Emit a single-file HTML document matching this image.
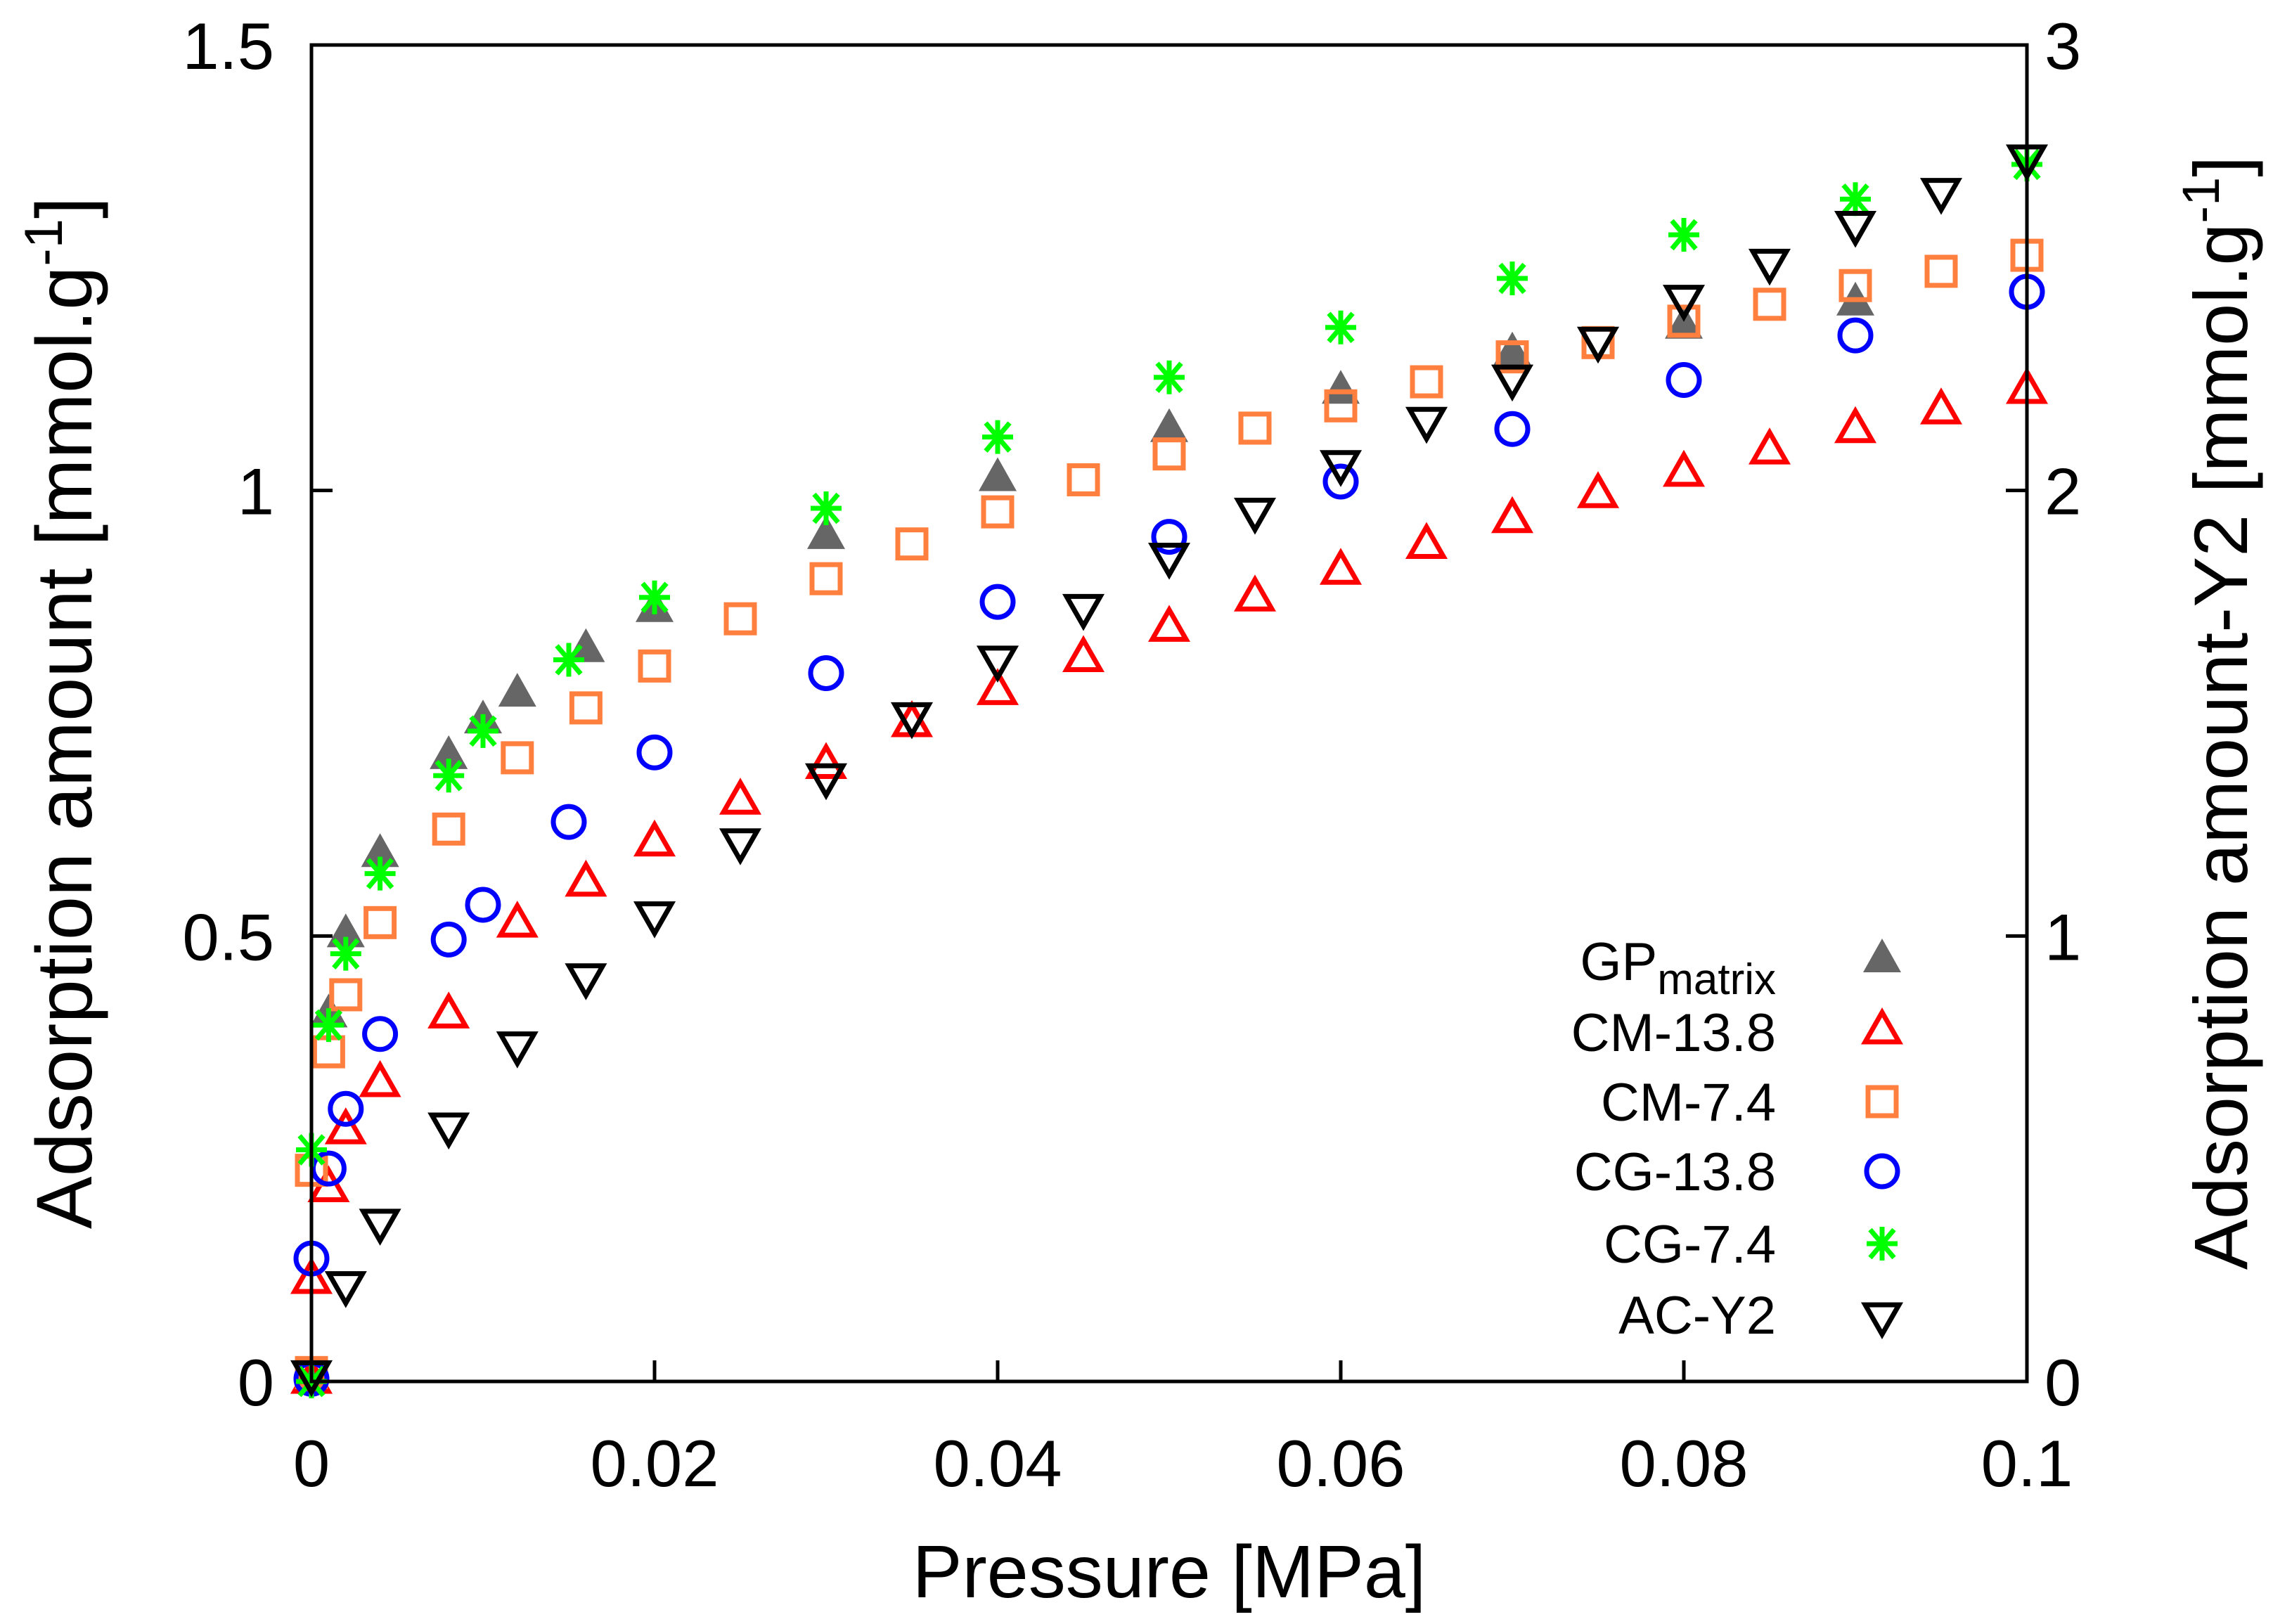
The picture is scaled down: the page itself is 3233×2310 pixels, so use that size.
<!DOCTYPE html>
<html><head><meta charset="utf-8"><style>
html,body{margin:0;padding:0;background:#fff;}
svg{display:block;font-family:"Liberation Sans",sans-serif;}
</style></head><body>
<svg id="chart" width="3233" height="2310" viewBox="0 0 3233 2310" xmlns="http://www.w3.org/2000/svg">
<g id="marks"></g>
<rect x="443" y="64" width="2440" height="1901" fill="none" stroke="#000" stroke-width="5"/>
<g id="axes"></g>
<text x="1663" y="2272" font-size="106" text-anchor="middle">Pressure [MPa]</text>
<text transform="translate(130,1014) rotate(-90)" font-size="112" text-anchor="middle">Adsorption amount [mmol.g<tspan dy="-42" font-size="76">-1</tspan><tspan dy="42">]</tspan></text>
<text transform="translate(3196,1014) rotate(-90)" font-size="108" text-anchor="middle">Adsorption amount-Y2 [mmol.g<tspan dy="-40" font-size="74">-1</tspan><tspan dy="40">]</tspan></text>
<g id="legend"></g>
</svg>
<script>
const xTicks=[0,0.02,0.04,0.06,0.08,0.1];
const xTickLabels=["0","0.02","0.04","0.06","0.08","0.1"];
const yTicks=[0,0.5,1,1.5];
const yTickLabels=["0","0.5","1","1.5"];
const y2Ticks=[0,1,2,3];
const y2TickLabels=["0","1","2","3"];
const seriesNames=["GPmatrix","CM-13.8","CM-7.4","CG-13.8","CG-7.4","AC-Y2"];
const gpX=[0,0.001,0.002,0.004,0.008,0.01,0.012,0.016,0.02,0.03,0.04,0.05,0.06,0.07,0.08,0.09];
const gpY=[0,0.41,0.50,0.59,0.70,0.74,0.77,0.82,0.865,0.947,1.012,1.067,1.11,1.153,1.183,1.209];
const cm138X=[0,0,0.001,0.002,0.004,0.008,0.012,0.016,0.02,0.025,0.03,0.035,0.04,0.045,0.05,0.055,0.06,0.065,0.07,0.075,0.08,0.085,0.09,0.095,0.1];
const cm138Y=[0,0.112,0.215,0.28,0.333,0.41,0.512,0.558,0.603,0.65,0.69,0.737,0.773,0.81,0.844,0.878,0.908,0.937,0.966,0.994,1.018,1.043,1.067,1.088,1.111];
const cm74X=[0,0,0.001,0.002,0.004,0.008,0.012,0.016,0.02,0.025,0.03,0.035,0.04,0.045,0.05,0.055,0.06,0.065,0.07,0.075,0.08,0.085,0.09,0.095,0.1];
const cm74Y=[0.01,0.237,0.37,0.434,0.515,0.62,0.70,0.756,0.803,0.856,0.901,0.94,0.976,1.012,1.041,1.07,1.095,1.122,1.15,1.166,1.19,1.209,1.23,1.246,1.264];
const cg138X=[0,0,0.001,0.002,0.004,0.008,0.01,0.015,0.02,0.03,0.04,0.05,0.06,0.07,0.08,0.09,0.1];
const cg138Y=[0.003,0.138,0.239,0.306,0.39,0.496,0.535,0.628,0.706,0.795,0.875,0.948,1.01,1.069,1.124,1.174,1.223];
const cg74X=[0,0,0.001,0.002,0.004,0.008,0.01,0.015,0.02,0.03,0.04,0.05,0.06,0.07,0.08,0.09,0.1];
const cg74Y=[0,0.26,0.40,0.48,0.57,0.68,0.73,0.81,0.88,0.98,1.06,1.127,1.183,1.238,1.287,1.327,1.366];
const acX=[0,0.002,0.004,0.008,0.012,0.016,0.02,0.025,0.03,0.035,0.04,0.045,0.05,0.055,0.06,0.065,0.07,0.075,0.08,0.085,0.09,0.095,0.1];
const acY2=[0.02,0.22,0.36,0.576,0.758,0.911,1.05,1.214,1.36,1.497,1.624,1.74,1.855,1.956,2.063,2.16,2.255,2.34,2.434,2.515,2.6,2.674,2.749];

const L=443,R=2883,T=64,B=1965,NS="http://www.w3.org/2000/svg";
const xs=v=>L+(v-0)/(0.1-0)*(R-L);
const ys=v=>B-(v/1.5)*(B-T);
const y2s=v=>B-(v/3)*(B-T);
function el(tag,attrs,parent){const e=document.createElementNS(NS,tag);for(const k in attrs)e.setAttribute(k,attrs[k]);parent.appendChild(e);return e;}
const axes=document.getElementById('axes');
xTicks.forEach((t,i)=>{
  const x=xs(t);
  if(i>0&&i<xTicks.length-1){const tk=el('line',{x1:x,x2:x,y1:B,y2:B-30,stroke:'#000','stroke-width':5},axes);
  
  }
  const tx=el('text',{x:x,y:2114,'font-size':94,'text-anchor':'middle'},axes);tx.textContent=xTickLabels[i];
  
  
});
yTicks.forEach((t,i)=>{
  const y=ys(t);
  if(i>0&&i<yTicks.length-1){const tk=el('line',{x1:L,x2:L+30,y1:y,y2:y,stroke:'#000','stroke-width':5},axes);
  
  }
  const tx=el('text',{x:390,y:y+34,'font-size':94,'text-anchor':'end'},axes);tx.textContent=yTickLabels[i];
  
  
});
y2Ticks.forEach((t,i)=>{
  const y=y2s(t);
  if(i>0&&i<y2Ticks.length-1){const tk=el('line',{x1:R,x2:R-30,y1:y,y2:y,stroke:'#000','stroke-width':5},axes);
  
  }
  const tx=el('text',{x:2908,y:y+34,'font-size':94,'text-anchor':'start'},axes);tx.textContent=y2TickLabels[i];
  
  
});
function marker(type,x,y,g){
  let m;const sw=7;
  if(type==='tri-fill'){m=el('polygon',{points:`${x},${y-32} ${x-27},${y+16} ${x+27},${y+16}`,fill:'#666'},g);}
  else if(type==='tri'){m=el('polygon',{points:`${x},${y-28} ${x-24},${y+14} ${x+24},${y+14}`,fill:'none',stroke:'#ff0000','stroke-width':sw},g);}
  else if(type==='sq'){m=el('rect',{x:x-20,y:y-20,width:40,height:40,fill:'none',stroke:'#ff7f3f','stroke-width':sw},g);}
  else if(type==='circ'){m=el('circle',{cx:x,cy:y,r:22,fill:'none',stroke:'#0000ff','stroke-width':sw},g);}
  else if(type==='star'){m=el('path',{d:`M${x-22},${y}H${x+22}M${x},${y-24}V${y+24}M${x-17},${y-20}L${x+17},${y+20}M${x-17},${y+20}L${x+17},${y-20}`,stroke:'#00ff00','stroke-width':sw,fill:'none'},g);}
  else if(type==='itri'){m=el('polygon',{points:`${x},${y+28} ${x-24},${y-14} ${x+24},${y-14}`,fill:'none',stroke:'#000','stroke-width':sw},g);}
  return m;
}
const marks=document.getElementById('marks');
const defs=[['tri-fill',gpX,gpY,ys],['tri',cm138X,cm138Y,ys],['sq',cm74X,cm74Y,ys],['circ',cg138X,cg138Y,ys],['star',cg74X,cg74Y,ys],['itri',acX,acY2,y2s]];
const names=['gp-matrix-point','cm-13-8-point','cm-7-4-point','cg-13-8-point','cg-7-4-point','ac-y2-point'];
defs.forEach((d,si)=>{
  const g=el('g',{},marks);
  
  
  d[1].forEach((xv,i)=>{const m=marker(d[0],xs(xv),d[3](d[2][i]),g);
    
    });
});
const leg=document.getElementById('legend');
const legY=[1367,1468,1567,1666,1769,1870];
seriesNames.forEach((n,i)=>{
  const t=el('text',{x:2526,y:legY[i]+27,'font-size':76,'text-anchor':'end'},leg);
  
  
  if(i===0){t.textContent='GP';const ts=el('tspan',{dy:20,'font-size':62},t);ts.textContent='matrix';}
  else t.textContent=n;
  const m=marker(defs[i][0],2677,legY[i],leg);
  
  
});
</script>
</body></html>
